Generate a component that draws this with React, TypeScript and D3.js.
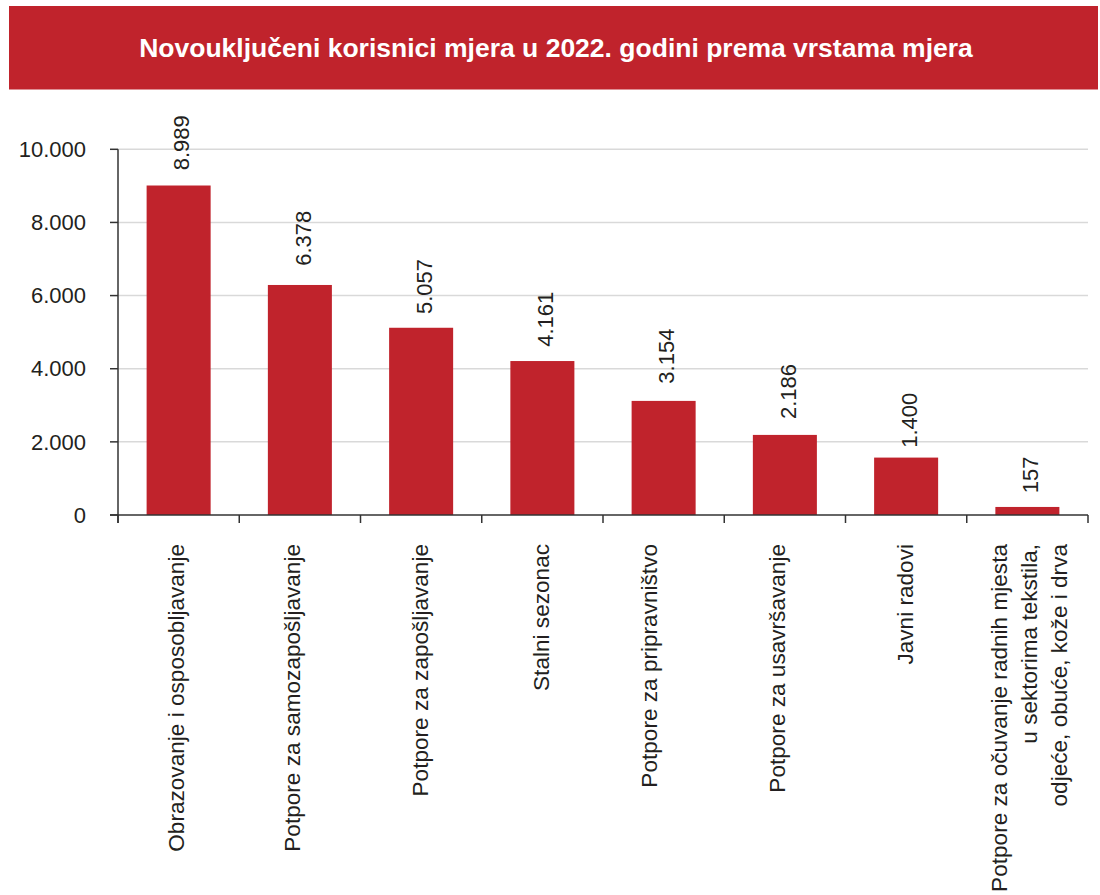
import React from "react";
import * as d3 from "d3";

const title = "Novouključeni korisnici mjera u 2022. godini prema vrstama mjera";

const categories: string[][] = [
  ["Obrazovanje i osposobljavanje"],
  ["Potpore za samozapošljavanje"],
  ["Potpore za zapošljavanje"],
  ["Stalni sezonac"],
  ["Potpore za pripravništvo"],
  ["Potpore za usavršavanje"],
  ["Javni radovi"],
  ["Potpore za očuvanje radnih mjesta", "u sektorima tekstila,", "odjeće, obuće, kože i drva"],
];

// bar heights as drawn in the reference
const barValues = [9010, 6290, 5120, 4210, 3120, 2190, 1570, 220];
// printed value labels
const labelValues = [8989, 6378, 5057, 4161, 3154, 2186, 1400, 157];

const yTicks = [0, 2000, 4000, 6000, 8000, 10000];

const W = 1100;
const H = 895;
const RED = "#C0232C";
const FONT = "'Liberation Sans', Arial, Helvetica, sans-serif";

const fmt = (v: number) => d3.format(",")(v).replace(/,/g, ".");

export default function App() {
  const x0 = 118;
  const x1 = 1088;
  const yTop = 149.3;
  const yBase = 515;

  const x = d3
    .scaleBand<number>()
    .domain(d3.range(categories.length))
    .range([x0, x1])
    .paddingInner(0.472)
    .paddingOuter(0.236);
  const y = d3.scaleLinear().domain([0, 10000]).range([yBase, yTop]);
  const step = x.step();
  const boundaries = d3.range(categories.length + 1).map((i) => x0 + i * step);

  const catDx = [-3, -8, -1.5, -1, -15, -8, -1, 2];

  return (
    <svg
      width={W}
      height={H}
      style={{ position: "absolute", left: 0, top: 0, background: "#fff" }}
      fontFamily={FONT}
    >
      <rect x={9} y={6} width={1089} height={83.5} fill={RED} />
      <text x={556} y={57} textAnchor="middle" fill="#fff" fontWeight="bold" fontSize={26.5}>
        {title}
      </text>

      {/* gridlines */}
      {yTicks.filter((t) => t > 0).map((t) => (
        <line key={t} x1={x0} x2={x1} y1={y(t)} y2={y(t)} stroke="#d9d9d9" strokeWidth={1.5} />
      ))}

      {/* bars */}
      {barValues.map((v, i) => (
        <rect
          key={i}
          x={x(i)!}
          y={y(v)}
          width={x.bandwidth()}
          height={yBase - y(v)}
          fill={RED}
        />
      ))}

      {/* y axis */}
      <line x1={x0} x2={x0} y1={yTop} y2={yBase + 8} stroke="#333" strokeWidth={1.5} />
      {yTicks.map((t) => (
        <g key={t}>
          <line x1={x0 - 8} x2={x0} y1={y(t)} y2={y(t)} stroke="#333" strokeWidth={1.5} />
          <text x={86} y={y(t)} dy="0.35em" textAnchor="end" fontSize={22} fill="#231f20">
            {fmt(t)}
          </text>
        </g>
      ))}

      {/* x axis */}
      <line x1={x0 - 8} x2={x1} y1={yBase} y2={yBase} stroke="#333" strokeWidth={1.5} />
      {boundaries.map((bx, i) => (
        <line key={i} x1={bx} x2={bx} y1={yBase} y2={yBase + 8} stroke="#333" strokeWidth={1.5} />
      ))}

      {/* value labels */}
      {labelValues.map((v, i) => {
        const cx = x(i)! + x.bandwidth() / 2 + 3;
        const ty = y(v) - 16;
        return (
          <text
            key={i}
            transform={`translate(${cx},${ty}) rotate(-90)`}
            dy="0.35em"
            textAnchor="start"
            fontSize={22}
            fill="#231f20"
          >
            {fmt(v)}
          </text>
        );
      })}

      {/* category labels */}
      {categories.map((lines, i) => {
        const cx = x(i)! + x.bandwidth() / 2 + catDx[i];
        const lh = 30;
        return (
          <g key={i}>
            {lines.map((ln, j) => {
              const lx = cx + (j - (lines.length - 1) / 2) * lh;
              return (
                <text
                  key={j}
                  transform={`translate(${lx},544) rotate(-90)`}
                  dy="0.35em"
                  textAnchor="end"
                  fontSize={22.6}
                  fill="#231f20"
                >
                  {ln}
                </text>
              );
            })}
          </g>
        );
      })}
    </svg>
  );
}
